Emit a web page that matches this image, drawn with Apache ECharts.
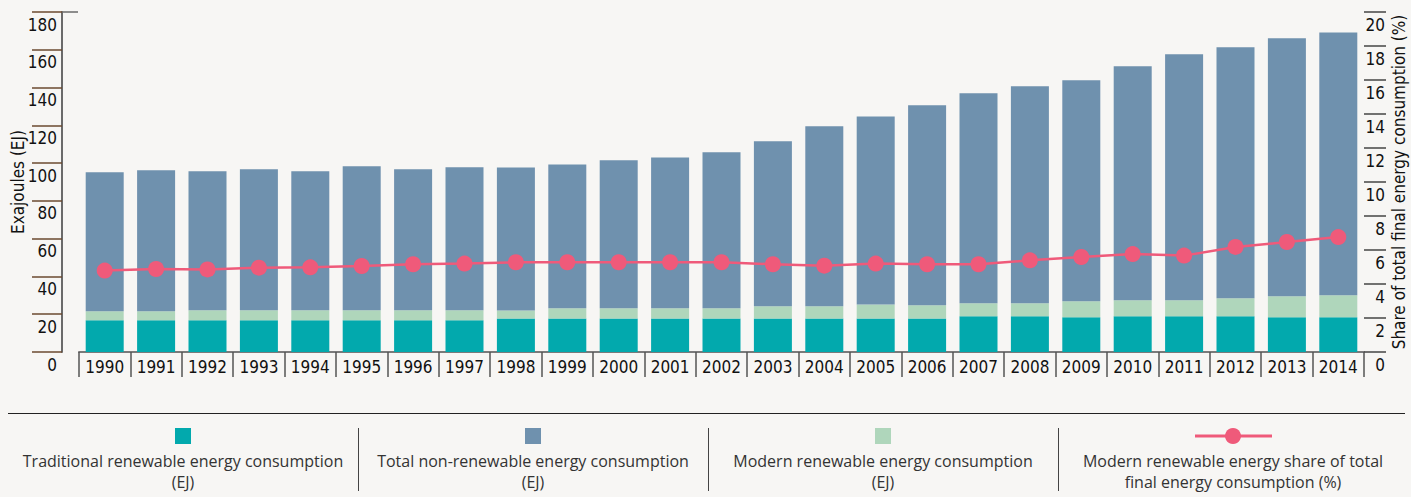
<!DOCTYPE html>
<html>
<head>
<meta charset="utf-8">
<script src="https://cdn.jsdelivr.net/npm/echarts@6/dist/echarts.min.js"></script>
<style>
  html, body { margin: 0; padding: 0; background: #f7f6f4; }
  #chart { width: 1411px; height: 497px; }
  /* axis text uses the condensed face of DejaVu Sans */
  #chart text[style*="DejaVu"] { font-stretch: condensed !important; }
</style>
</head>
<body>
<div id="chart"></div>
<script>
// Years on the category axis
const years = ['1990','1991','1992','1993','1994','1995','1996','1997','1998','1999',
  '2000','2001','2002','2003','2004','2005','2006','2007','2008','2009',
  '2010','2011','2012','2013','2014'];

// Traditional renewable energy consumption (EJ)
const traditional = [16.8,16.8,16.8,16.8,16.8,16.8,16.8,16.8,17.8,17.8,
  17.8,17.8,17.8,17.8,17.8,17.8,17.8,18.9,18.9,18.4,
  18.9,18.9,18.9,18.4,18.4];

// Modern renewable energy consumption (EJ)
const modern = [4.8,4.8,5.3,5.3,5.3,5.3,5.3,5.3,4.2,5.3,
  5.3,5.3,5.3,6.4,6.4,7.4,6.9,6.9,6.9,8.5,
  8.5,8.5,9.5,11.1,11.6];

// Total non-renewable energy consumption (EJ)
const nonRenewable = [73.6,74.6,73.6,74.6,73.6,76.2,74.6,75.7,75.7,76.2,
  78.4,79.9,82.6,87.4,95.3,99.5,105.9,111.2,114.9,117.0,
  123.9,130.2,132.9,136.6,139.2];

// Modern renewable share of total final energy consumption (%)
const modernShare = [4.79,4.88,4.86,4.96,4.98,5.06,5.16,5.2,5.28,5.28,
  5.28,5.28,5.28,5.16,5.08,5.2,5.16,5.16,5.39,5.59,
  5.76,5.67,6.18,6.47,6.76];

// Legend captions (two lines each)
const legendNames = [
  ['Traditional renewable energy consumption', '(EJ)'],
  ['Total non-renewable energy consumption', '(EJ)'],
  ['Modern renewable energy consumption', '(EJ)'],
  ['Modern renewable energy share of total', 'final energy consumption (%)']
];

const COLORS = {
  traditional: '#02a9ad',
  modern: '#afd6bb',
  nonRenewable: '#6f91ae',
  share: '#ef5a7a'
};

const condensed = "'DejaVu Sans', sans-serif";
const legendFont = "'Open Sans', 'Noto Sans', sans-serif";

const chart = echarts.init(document.getElementById('chart'), null, { renderer: 'svg' });

// Bottom legend: rule, separators, icons and centred captions
const legendColors = [COLORS.traditional, COLORS.nonRenewable, COLORS.modern, null];
const colLeft = 8, colWidth = 350;
const graphics = [
  { type: 'line', shape: { x1: 8, y1: 413.5, x2: 1405, y2: 413.5 },
    style: { stroke: '#222', lineWidth: 1 } },
  // short cap at the top of the left axis
  { type: 'line', shape: { x1: 62, y1: 12, x2: 78, y2: 12 },
    style: { stroke: '#6a6a6a', lineWidth: 1.5 } }
];
legendNames.forEach((lines, i) => {
  const cx = colLeft + colWidth * i + colWidth / 2;
  if (i > 0) {
    const sx = Math.round(colLeft + colWidth * i) + 0.5;
    graphics.push({ type: 'line', shape: { x1: sx, y1: 428, x2: sx, y2: 491 },
      style: { stroke: '#444', lineWidth: 1 } });
  }
  if (legendColors[i]) {
    graphics.push({ type: 'rect', shape: { x: cx - 8, y: 428, width: 16, height: 16 },
      style: { fill: legendColors[i] } });
  } else {
    graphics.push({ type: 'line', shape: { x1: cx - 38, y1: 436, x2: cx + 39, y2: 436 },
      style: { stroke: COLORS.share, lineWidth: 3 } });
    graphics.push({ type: 'circle', shape: { cx: cx, cy: 436, r: 8 },
      style: { fill: COLORS.share } });
  }
  lines.forEach((t, k) => {
    graphics.push({ type: 'text', x: cx, y: 461 + k * 21,
      style: { text: t, align: 'center', verticalAlign: 'middle',
        font: '16px ' + legendFont, fill: '#333' } });
  });
});

const axisText = { color: '#111', fontFamily: condensed, fontSize: 17 };

const option = {
  backgroundColor: '#f7f6f4',
  animation: false,
  grid: { left: 79, right: 47, top: 12, bottom: 145, containLabel: false, outerBoundsMode: 'none' },
  xAxis: {
    type: 'category',
    data: years,
    boundaryGap: true,
    axisLine: { show: true, lineStyle: { color: '#7a7a7a', width: 2 } },
    axisTick: { show: true, length: 25, lineStyle: { color: '#555', width: 1.5 } },
    axisLabel: Object.assign({ margin: 6, interval: 0 }, axisText)
  },
  yAxis: [
    {
      type: 'value', position: 'left', offset: 17,
      min: 0, max: 180, interval: 20,
      name: 'Exajoules (EJ)', nameLocation: 'middle', nameGap: 36, nameMoveOverlap: false,
      nameTextStyle: axisText,
      axisLine: { show: true, lineStyle: { color: '#6a6a6a', width: 2 } },
      axisTick: { show: true, inside: false, length: 30, lineStyle: { color: '#6b4a30', width: 1.5 } },
      axisLabel: Object.assign({ margin: 5, verticalAlign: 'top', padding: [4, 0, 0, 0] }, axisText),
      splitLine: { show: false }
    },
    {
      type: 'value', position: 'right',
      min: 0, max: 20, interval: 2,
      name: 'Share of total final energy consumption (%)', nameLocation: 'middle', nameGap: 26, nameMoveOverlap: false,
      nameTextStyle: axisText,
      axisLine: { show: false },
      axisTick: { show: true, inside: false, length: 22, lineStyle: { color: '#444', width: 1.5 } },
      axisLabel: Object.assign({ margin: 21, align: 'right', verticalAlign: 'top', padding: [4, 0, 0, 0] }, axisText),
      splitLine: { show: false }
    }
  ],
  graphic: graphics,
  series: [
    { name: legendNames[0].join(' '), type: 'bar', stack: 'energy', barWidth: 38,
      itemStyle: { color: COLORS.traditional }, data: traditional },
    { name: legendNames[2].join(' '), type: 'bar', stack: 'energy', barWidth: 38,
      itemStyle: { color: COLORS.modern }, data: modern },
    { name: legendNames[1].join(' '), type: 'bar', stack: 'energy', barWidth: 38,
      itemStyle: { color: COLORS.nonRenewable }, data: nonRenewable },
    { name: legendNames[3].join(' '), type: 'line', yAxisIndex: 1,
      symbol: 'circle', symbolSize: 16,
      lineStyle: { color: COLORS.share, width: 2.5 },
      itemStyle: { color: COLORS.share },
      data: modernShare, z: 5 }
  ]
};

chart.setOption(option);
</script>
</body>
</html>
